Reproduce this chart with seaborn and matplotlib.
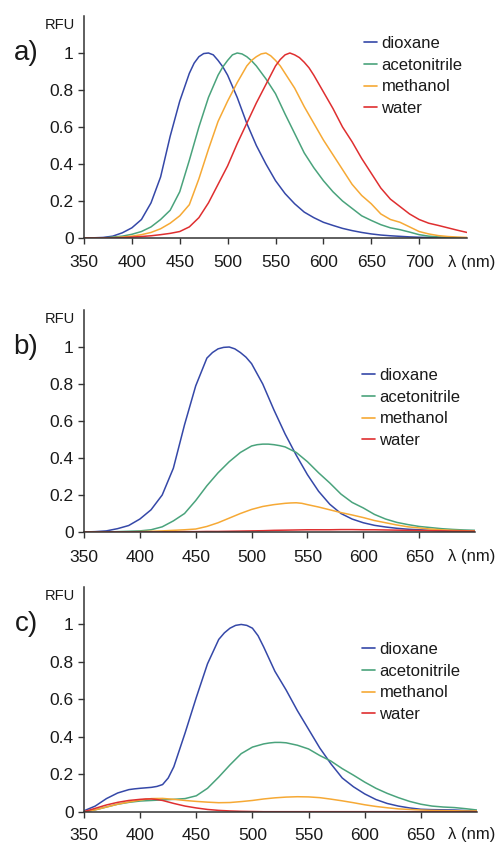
import numpy as np
import pandas as pd
import matplotlib
matplotlib.use("Agg")
import matplotlib.pyplot as plt
import seaborn as sns

# ---------------- data ----------------
solvents = ["dioxane", "acetonitrile", "methanol", "water"]

# panel a: 10 nm grid
wl_a = list(range(350, 751, 10))
a_dioxane = [0, 0.001, 0.003, 0.01, 0.028, 0.055, 0.1, 0.19, 0.33, 0.55,
             0.74, 0.89, 0.98, 1.0, 0.96, 0.88, 0.76, 0.62, 0.5, 0.4,
             0.31, 0.24, 0.185, 0.14, 0.11, 0.085, 0.068, 0.052, 0.04, 0.03,
             0.022, 0.016, 0.012, 0.009, 0.006, 0.004, 0.003, 0.002, 0.001, 0.001, 0]
a_acetonitrile = [0, 0, 0, 0.005, 0.01, 0.02, 0.035, 0.06, 0.1, 0.15,
                  0.25, 0.42, 0.6, 0.76, 0.88, 0.96, 1.0, 0.98, 0.93, 0.86,
                  0.78, 0.67, 0.565, 0.46, 0.38, 0.31, 0.25, 0.2, 0.16, 0.12,
                  0.095, 0.072, 0.055, 0.045, 0.032, 0.018, 0.01, 0.006, 0.004, 0.002, 0.001]
a_methanol = [0, 0, 0, 0.002, 0.005, 0.01, 0.018, 0.03, 0.05, 0.08,
              0.12, 0.18, 0.32, 0.48, 0.63, 0.74, 0.84, 0.93, 0.98, 1.0,
              0.96, 0.89, 0.81, 0.71, 0.62, 0.53, 0.45, 0.37, 0.29, 0.23,
              0.185, 0.13, 0.1, 0.085, 0.06, 0.035, 0.022, 0.013, 0.008, 0.005, 0.003]
a_water = [0, 0, 0, 0, 0.002, 0.005, 0.008, 0.012, 0.018, 0.025,
           0.035, 0.06, 0.11, 0.19, 0.29, 0.39, 0.51, 0.62, 0.73, 0.83,
           0.93, 0.99, 0.99, 0.95, 0.88, 0.79, 0.7, 0.6, 0.52, 0.43,
           0.35, 0.27, 0.21, 0.17, 0.13, 0.1, 0.08, 0.068, 0.055, 0.042, 0.03]

# extra readings around the peaks of panel a (5 nm offsets)
a_dioxane_wl_x = [465, 475, 485, 495]
a_dioxane_x = [0.945, 0.997, 0.99, 0.925]
a_acetonitrile_wl_x = [495, 505, 515, 525]
a_acetonitrile_x = [0.925, 0.99, 0.995, 0.958]
a_methanol_wl_x = [525, 535, 545, 555]
a_methanol_x = [0.96, 0.995, 0.985, 0.93]
a_water_wl_x = [555, 565, 575, 585]
a_water_x = [0.965, 1.0, 0.975, 0.92]

# panels b and c: 10 nm grid
wl_bc = list(range(350, 701, 10))
b_dioxane = [0, 0.002, 0.006, 0.018, 0.035, 0.07, 0.12, 0.2, 0.345, 0.58,
             0.79, 0.94, 0.99, 1.0, 0.97, 0.91, 0.8, 0.66, 0.53, 0.415,
             0.31, 0.22, 0.15, 0.1, 0.07, 0.05, 0.036, 0.027, 0.02, 0.015,
             0.012, 0.009, 0.007, 0.006, 0.005, 0.004]
b_acetonitrile = [0, 0, 0, 0.002, 0.004, 0.006, 0.012, 0.028, 0.06, 0.1,
                  0.17, 0.25, 0.32, 0.38, 0.43, 0.465, 0.475, 0.472, 0.46, 0.43,
                  0.38, 0.32, 0.265, 0.205, 0.16, 0.13, 0.095, 0.07, 0.052, 0.04,
                  0.03, 0.024, 0.018, 0.014, 0.011, 0.009]
b_methanol = [0, 0, 0, 0, 0.001, 0.002, 0.004, 0.006, 0.009, 0.012,
              0.016, 0.03, 0.05, 0.075, 0.1, 0.122, 0.138, 0.148, 0.155, 0.158,
              0.148, 0.135, 0.12, 0.105, 0.092, 0.078, 0.062, 0.05, 0.038, 0.028,
              0.022, 0.016, 0.012, 0.009, 0.007, 0.005]
b_water = [0, 0, 0, 0, 0, 0, 0.001, 0.001, 0.001, 0.002,
           0.002, 0.003, 0.003, 0.004, 0.005, 0.006, 0.007, 0.009, 0.01, 0.011,
           0.012, 0.012, 0.012, 0.013, 0.013, 0.012, 0.012, 0.011, 0.01, 0.009,
           0.008, 0.007, 0.006, 0.005, 0.005, 0.004]

b_dioxane_wl_x = [465, 475, 485, 495]
b_dioxane_x = [0.97, 0.998, 0.99, 0.945]
b_acetonitrile_wl_x = [505, 515, 525]
b_acetonitrile_x = [0.472, 0.475, 0.467]
b_methanol_wl_x = [535, 545]
b_methanol_x = [0.157, 0.155]
b_water_wl_x = []
b_water_x = []

c_dioxane = [0.005, 0.03, 0.07, 0.1, 0.118, 0.125, 0.13, 0.145, 0.24, 0.42,
             0.61, 0.79, 0.92, 0.98, 1.0, 0.98, 0.88, 0.75, 0.65, 0.54,
             0.44, 0.34, 0.255, 0.18, 0.133, 0.095, 0.065, 0.044, 0.03, 0.02,
             0.013, 0.011, 0.01, 0.009, 0.006, 0.004]
c_acetonitrile = [0, 0.01, 0.025, 0.04, 0.05, 0.057, 0.06, 0.063, 0.066, 0.07,
                  0.085, 0.125, 0.185, 0.25, 0.31, 0.345, 0.362, 0.37, 0.368, 0.355,
                  0.335, 0.3, 0.27, 0.23, 0.195, 0.158, 0.125, 0.098, 0.075, 0.055,
                  0.04, 0.03, 0.025, 0.022, 0.016, 0.009]
c_methanol = [0, 0.01, 0.025, 0.04, 0.052, 0.062, 0.07, 0.071, 0.066, 0.06,
              0.055, 0.051, 0.048, 0.049, 0.054, 0.06, 0.068, 0.074, 0.078, 0.08,
              0.079, 0.075, 0.067, 0.058, 0.048, 0.037, 0.028, 0.021, 0.015, 0.012,
              0.009, 0.007, 0.006, 0.005, 0.004, 0.004]
c_water = [0, 0.018, 0.036, 0.05, 0.06, 0.066, 0.068, 0.06, 0.044, 0.03,
           0.02, 0.012, 0.007, 0.004, 0.002, 0.001, 0, 0, 0, 0,
           0, 0, 0, 0, 0, 0, 0, 0, 0, 0,
           0, 0, 0, 0, 0, 0]

c_dioxane_wl_x = [395, 415, 425, 475, 485, 495, 505]
c_dioxane_x = [0.122, 0.135, 0.18, 0.955, 0.995, 0.995, 0.94]
c_acetonitrile_wl_x = [515, 525]
c_acetonitrile_x = [0.367, 0.37]
c_methanol_wl_x = []
c_methanol_x = []
c_water_wl_x = [405, 415]
c_water_x = [0.068, 0.065]

yticks = [0, 0.2, 0.4, 0.6, 0.8, 1]
ytick_labels = ["0", "0.2", "0.4", "0.6", "0.8", "1"]
xticks_a = [350, 400, 450, 500, 550, 600, 650, 700]
xticks_bc = [350, 400, 450, 500, 550, 600, 650]
panel_labels = ["a)", "b)", "c)"]

colors = {"dioxane": "#3548a8", "acetonitrile": "#4aa37c",
          "methanol": "#f6a935", "water": "#df2f30"}

# ---------------- style ----------------
sns.set_style("ticks")
plt.rcParams["font.family"] = ["Liberation Sans", "DejaVu Sans"]

W, H = 496, 844
fig = plt.figure(figsize=(W / 100, H / 100), dpi=100)


def frame(wl, series, extra):
    rows = []
    for name, vals, (wx, vx) in zip(solvents, series, extra):
        rows.append(pd.DataFrame({"wavelength": list(wl) + list(wx),
                                  "RFU": list(vals) + list(vx),
                                  "solvent": name}))
    return pd.concat(rows, ignore_index=True)


panels = [
    dict(wl=wl_a, series=[a_dioxane, a_acetonitrile, a_methanol, a_water],
         extra=[(a_dioxane_wl_x, a_dioxane_x), (a_acetonitrile_wl_x, a_acetonitrile_x),
                (a_methanol_wl_x, a_methanol_x), (a_water_wl_x, a_water_x)],
         xlim=(350, 750), xticks=xticks_a,
         rect=(84, 16, 467, 238), leg=(364, 36), lab_dy=24),
    dict(wl=wl_bc, series=[b_dioxane, b_acetonitrile, b_methanol, b_water],
         extra=[(b_dioxane_wl_x, b_dioxane_x), (b_acetonitrile_wl_x, b_acetonitrile_x),
                (b_methanol_wl_x, b_methanol_x), (b_water_wl_x, b_water_x)],
         xlim=(350, 700), xticks=xticks_bc,
         rect=(84, 310, 475, 532), leg=(362, 368), lab_dy=25),
    dict(wl=wl_bc, series=[c_dioxane, c_acetonitrile, c_methanol, c_water],
         extra=[(c_dioxane_wl_x, c_dioxane_x), (c_acetonitrile_wl_x, c_acetonitrile_x),
                (c_methanol_wl_x, c_methanol_x), (c_water_wl_x, c_water_x)],
         xlim=(350, 700), xticks=xticks_bc,
         rect=(84, 587, 477, 811.7), leg=(362, 642), lab_dy=23),
]

for i, p in enumerate(panels):
    x0, y0, x1, y1 = p["rect"]
    ax = fig.add_axes([x0 / W, 1 - y1 / H, (x1 - x0) / W, (y1 - y0) / H])
    df = frame(p["wl"], p["series"], p["extra"])
    sns.lineplot(data=df, x="wavelength", y="RFU", hue="solvent",
                 hue_order=solvents, palette=colors, linewidth=1.1,
                 ax=ax, legend=True, sort=True)
    ax.set_xlim(*p["xlim"])
    ax.set_ylim(0, 1.2)
    ax.set_xticks(p["xticks"])
    ax.set_xticklabels([str(t) for t in p["xticks"]])
    ax.set_yticks(yticks)
    ax.set_yticklabels(ytick_labels)
    ax.set_xlabel("")
    ax.set_ylabel("")
    sns.despine(ax=ax)
    for s in ["left", "bottom"]:
        ax.spines[s].set_color("#333333")
        ax.spines[s].set_linewidth(1.1)
    ax.tick_params(axis="both", labelsize=12.5, length=4.5, width=1.0,
                   color="#333333", labelcolor="#1a1a1a")
    ax.tick_params(axis="y", pad=3)
    ax.tick_params(axis="x", pad=(p["lab_dy"] - 6.5 - 6.5) * 0.72)
    ax.patch.set_alpha(0)

    lx, ly = p["leg"]
    leg = ax.legend(loc="upper left", bbox_to_anchor=(lx / W, 1 - ly / H),
                    bbox_transform=fig.transFigure, frameon=False,
                    fontsize=12, handlelength=0.8, handletextpad=0.25,
                    labelspacing=0.4, borderpad=0, borderaxespad=0)
    for line in leg.get_lines():
        line.set_linewidth(1.2)
    for t in leg.get_texts():
        t.set_color("#1a1a1a")

    # RFU label near the top of the y axis
    ax.annotate("RFU", xy=(0, 1.15), xycoords=("axes fraction", "data"),
                xytext=(-6.5, 0), textcoords="offset points",
                ha="right", va="center", fontsize=10.5, color="#1a1a1a")
    # panel letter at the y = 1 level
    ax.annotate(panel_labels[i], xy=(0, 1.0), xycoords=("axes fraction", "data"),
                xytext=(-33, 0), textcoords="offset points",
                ha="right", va="center", fontsize=20, color="#1a1a1a")
    # wavelength axis label in the tick-label row
    ax.annotate("λ (nm)", xy=(0, 0), xycoords=("axes fraction", "data"),
                xytext=((495 - x0) * 0.72, -p["lab_dy"] * 0.72), textcoords="offset points",
                ha="right", va="center", fontsize=12, color="#1a1a1a",
                annotation_clip=False)

fig.savefig("out.png", dpi=100)
